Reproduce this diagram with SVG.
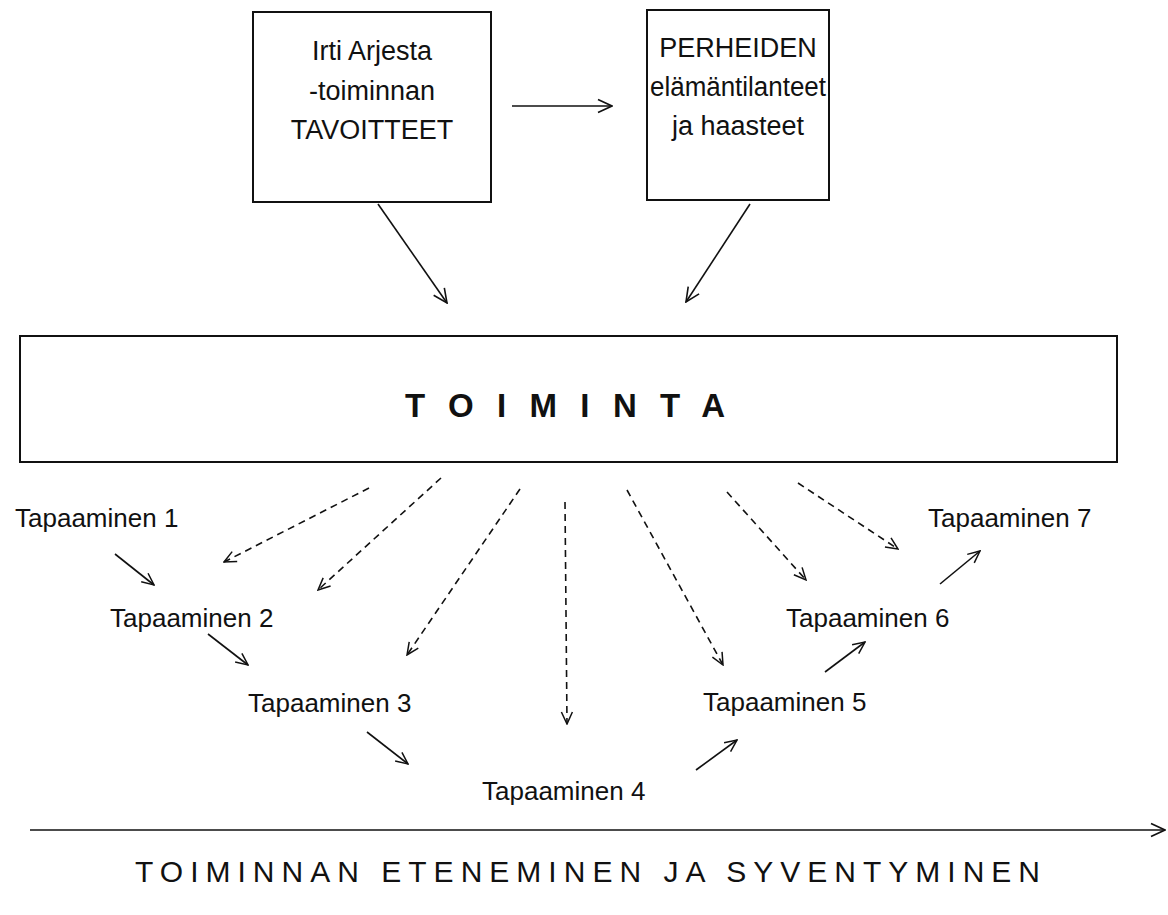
<svg xmlns="http://www.w3.org/2000/svg" width="1168" height="915" viewBox="0 0 1168 915">
<style>
.box{fill:#fff;stroke:#111;stroke-width:2}
.t{font-family:"Liberation Sans",Arial,sans-serif;fill:#111}
.bt{font-size:27px;text-anchor:middle}
.lbl{font-size:26px}
.c{stroke:#111;stroke-width:1.6;fill:none}
.d{stroke:#111;stroke-width:1.6;fill:none;stroke-dasharray:7 5}
</style>
<defs>
<marker id="ah" viewBox="0 0 16 16" refX="15" refY="8" markerWidth="16" markerHeight="16" markerUnits="userSpaceOnUse" orient="auto">
<path d="M1,1.5 L15,8 L1,14.5" fill="none" stroke="#111" stroke-width="1.6" stroke-dasharray="none"/>
</marker>
<marker id="ahs" viewBox="0 0 14 14" refX="13" refY="7" markerWidth="14" markerHeight="14" markerUnits="userSpaceOnUse" orient="auto">
<path d="M1,1.5 L13,7 L1,12.5" fill="none" stroke="#111" stroke-width="1.5" stroke-dasharray="none"/>
</marker>
</defs>
<rect width="1168" height="915" fill="#fff"/>
<g id="node-tavoitteet">
<rect class="box" x="253" y="12" width="238" height="190"/>
<text class="t bt" x="372" y="60">Irti Arjesta</text>
<text class="t bt" x="372" y="100">-toiminnan</text>
<text class="t bt" x="372" y="139">TAVOITTEET</text>
</g>
<g id="node-perheiden">
<rect class="box" x="647" y="10" width="182" height="190"/>
<text class="t bt" x="738" y="57">PERHEIDEN</text>
<text class="t bt" x="738" y="96" textLength="176" lengthAdjust="spacingAndGlyphs">elämäntilanteet</text>
<text class="t bt" x="738" y="135">ja haasteet</text>
</g>
<g id="node-toiminta">
<rect class="box" x="20" y="336" width="1097" height="126"/>
<text class="t" x="405" y="417" font-size="33" font-weight="bold" textLength="320" lengthAdjust="spacing">TOIMINTA</text>
</g>
<g id="node-t1"><text class="t lbl" x="15" y="527">Tapaaminen 1</text></g>
<g id="node-t2"><text class="t lbl" x="110" y="627">Tapaaminen 2</text></g>
<g id="node-t3"><text class="t lbl" x="248" y="712">Tapaaminen 3</text></g>
<g id="node-t4"><text class="t lbl" x="482" y="800">Tapaaminen 4</text></g>
<g id="node-t5"><text class="t lbl" x="703" y="711">Tapaaminen 5</text></g>
<g id="node-t6"><text class="t lbl" x="786" y="627">Tapaaminen 6</text></g>
<g id="node-t7"><text class="t lbl" x="928" y="527">Tapaaminen 7</text></g>
<g id="caption">
<text class="t" x="135" y="882" font-size="30" textLength="905" lengthAdjust="spacing">TOIMINNAN ETENEMINEN JA SYVENTYMINEN</text>
</g>
<g id="connectors">
<line class="c" x1="512" y1="106" x2="612" y2="106" marker-end="url(#ah)"/>
<line class="c" x1="378" y1="204" x2="447" y2="303" marker-end="url(#ah)"/>
<line class="c" x1="750" y1="204" x2="686" y2="302" marker-end="url(#ah)"/>
<line class="d" x1="369" y1="488" x2="224" y2="562" marker-end="url(#ahs)"/>
<line class="d" x1="441" y1="478" x2="318" y2="590" marker-end="url(#ahs)"/>
<line class="d" x1="520" y1="489" x2="407" y2="655" marker-end="url(#ahs)"/>
<line class="d" x1="565" y1="502" x2="567" y2="724" marker-end="url(#ahs)"/>
<line class="d" x1="627" y1="490" x2="723" y2="665" marker-end="url(#ahs)"/>
<line class="d" x1="727" y1="492" x2="806" y2="580" marker-end="url(#ahs)"/>
<line class="d" x1="798" y1="483" x2="898" y2="549" marker-end="url(#ahs)"/>
<line class="c" x1="115" y1="554" x2="154" y2="585" marker-end="url(#ahs)"/>
<line class="c" x1="208" y1="634" x2="248" y2="665" marker-end="url(#ahs)"/>
<line class="c" x1="367" y1="732" x2="408" y2="764" marker-end="url(#ahs)"/>
<line class="c" x1="696" y1="770" x2="737" y2="740" marker-end="url(#ahs)"/>
<line class="c" x1="825" y1="672" x2="865" y2="642" marker-end="url(#ahs)"/>
<line class="c" x1="940" y1="584" x2="980" y2="551" marker-end="url(#ahs)"/>
<line class="c" x1="30" y1="830" x2="1165" y2="830" marker-end="url(#ah)"/>
</g>
</svg>
